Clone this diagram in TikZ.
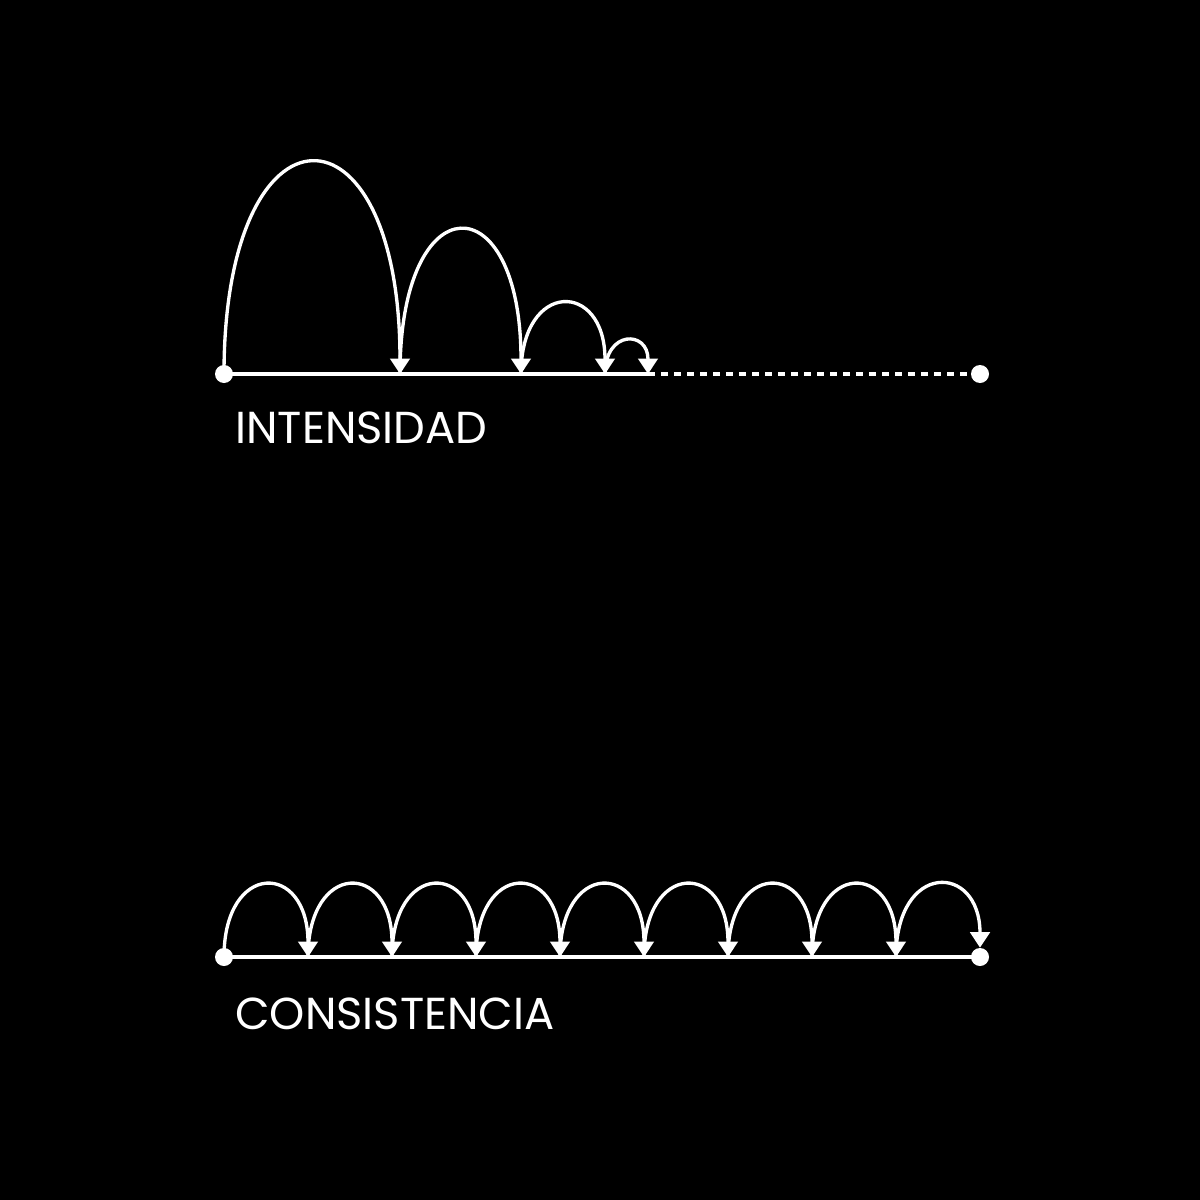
\documentclass[tikz,border=0pt]{standalone}
\usepackage{fontspec}
\setmainfont{Poppins}
\usetikzlibrary{arrows.meta,positioning}
\tikzstyle{dot} = [circle, fill=white, inner sep=0pt, minimum size=3.6mm]
\tikzstyle{base} = [draw=white, line width=2pt]
\tikzstyle{gap} = [draw=white, line width=2.2pt, dash pattern=on 4pt off 3.4pt]
\tikzstyle{jump} = [draw=white, line width=1.9pt, -{Triangle[width=3.9mm,length=3.1mm]}]
\tikzstyle{word} = [text=white, anchor=base west, inner sep=0pt, font=\fontsize{25.5}{30}\selectfont]

\begin{document}
\begin{tikzpicture}[x=0.02cm, y=-0.02cm]
    \fill[black] (0,0) rectangle (1200,1200);
    \useasboundingbox (0,0) rectangle (1200,1200);

    % intensidad
    \node (s1) [dot] at (224,374) {};
    \node (e1) [dot] at (980,374) {};
    \coordinate (a1) at (400,374);
    \coordinate (a2) at (521,374);
    \coordinate (a3) at (605,374);
    \coordinate (a4) at (648,374);
    \draw [base] (s1.center) -- (a4);
    \draw [gap] (a4) -- (e1);
    \draw [jump] (s1.center) .. controls +(0,-282) and +(0,-282) .. (a1);
    \draw [jump] (a1) .. controls +(0,-192) and +(0,-192) .. (a2);
    \draw [jump] (a2) .. controls +(0,-94) and +(0,-94) .. (a3);
    \draw [jump] (a3) .. controls +(0,-44) and +(0,-44) .. (a4);
    \node (lab1) [word] at (235,443) {INTENSIDAD};

    % consistencia
    \node (s2) [dot] at (224,957) {};
    \node (e2) [dot] at (980,957) {};
    \foreach \i in {0,...,8}
        \coordinate (c\i) at (224+84*\i,957);
    \draw [base] (s2.center) -- (e2.center);
    \foreach \i [count=\j from 1] in {0,...,7}
        \draw [jump] (c\i) .. controls +(0,-96) and +(0,-96) .. (c\j);
    \draw [jump] (c8) .. controls +(0,-96) and +(0,-85) .. (e2.north);
    \node (lab2) [word] at (235,1029) {CONSISTENCIA};
\end{tikzpicture}
\end{document}
